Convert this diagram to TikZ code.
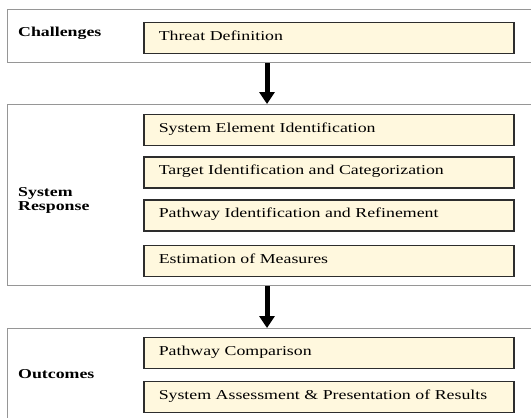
\documentclass[tikz,border=0pt]{standalone}
\usepackage{fontspec}
\setmainfont[FakeStretch=1.31]{Liberation Serif}
\usetikzlibrary{arrows.meta}
\definecolor{boxfill}{RGB}{255,248,222}
\definecolor{boxedge}{RGB}{45,45,45}
\definecolor{paneledge}{RGB}{150,150,150}
\tikzset{
  panel/.style={draw=paneledge, line width=1bp, fill=white, rectangle,
    minimum width=560bp, anchor=north west, inner sep=0pt},
  stepbox/.style={draw=boxedge, line width=1.5bp, fill=boxfill, rectangle,
    anchor=west, text width=340bp, inner xsep=15bp, align=left,
    text height=8bp, text depth=4bp, minimum height=31bp,
    font=\fontsize{13.6bp}{16bp}\selectfont},
  phase/.style={anchor=base west, align=left, inner sep=0pt,
    font=\fontsize{13.6bp}{14bp}\selectfont\bfseries},
  flow/.style={line width=5bp, -{Triangle[width=15bp,length=12bp]}}
}
\begin{document}
\begin{tikzpicture}[x=1bp, y=-1bp]
  \clip (0,0) rectangle (531,417);
  \fill[white] (0,0) rectangle (531,417);

  % the three phase panels
  \node[panel, minimum height=53bp] (p1) at (7,9) {};
  \node[panel, minimum height=181bp] (p2) at (7,104) {};
  \node[panel, minimum height=120bp] (p3) at (7,328) {};

  % phase names (base anchor sits on the last line)
  \node[phase] (lc) at (18,36) {Challenges};
  \node[phase] (ls) at (18,210) {System\\Response};
  \node[phase] (lo) at (18,378) {Outcomes};

  % steps of each phase
  \node[stepbox] (td) at (143,38) {Threat Definition};
  \node[stepbox] (sei) at (143,130) {System Element Identification};
  \node[stepbox] (tic) at (143,172.5) {Target Identification and Categorization};
  \node[stepbox] (pir) at (143,215.5) {Pathway Identification and Refinement};
  \node[stepbox] (eom) at (143,261) {Estimation of Measures};
  \node[stepbox] (pc) at (143,353) {Pathway Comparison};
  \node[stepbox] (sa) at (143,397) {System Assessment \& Presentation of Results};

  % flow between phases
  \coordinate (ax) at (267,0);
  \draw[flow] (p1.south -| ax) -- (p2.north -| ax);
  \draw[flow] (p2.south -| ax) -- (p3.north -| ax);
\end{tikzpicture}
\end{document}
